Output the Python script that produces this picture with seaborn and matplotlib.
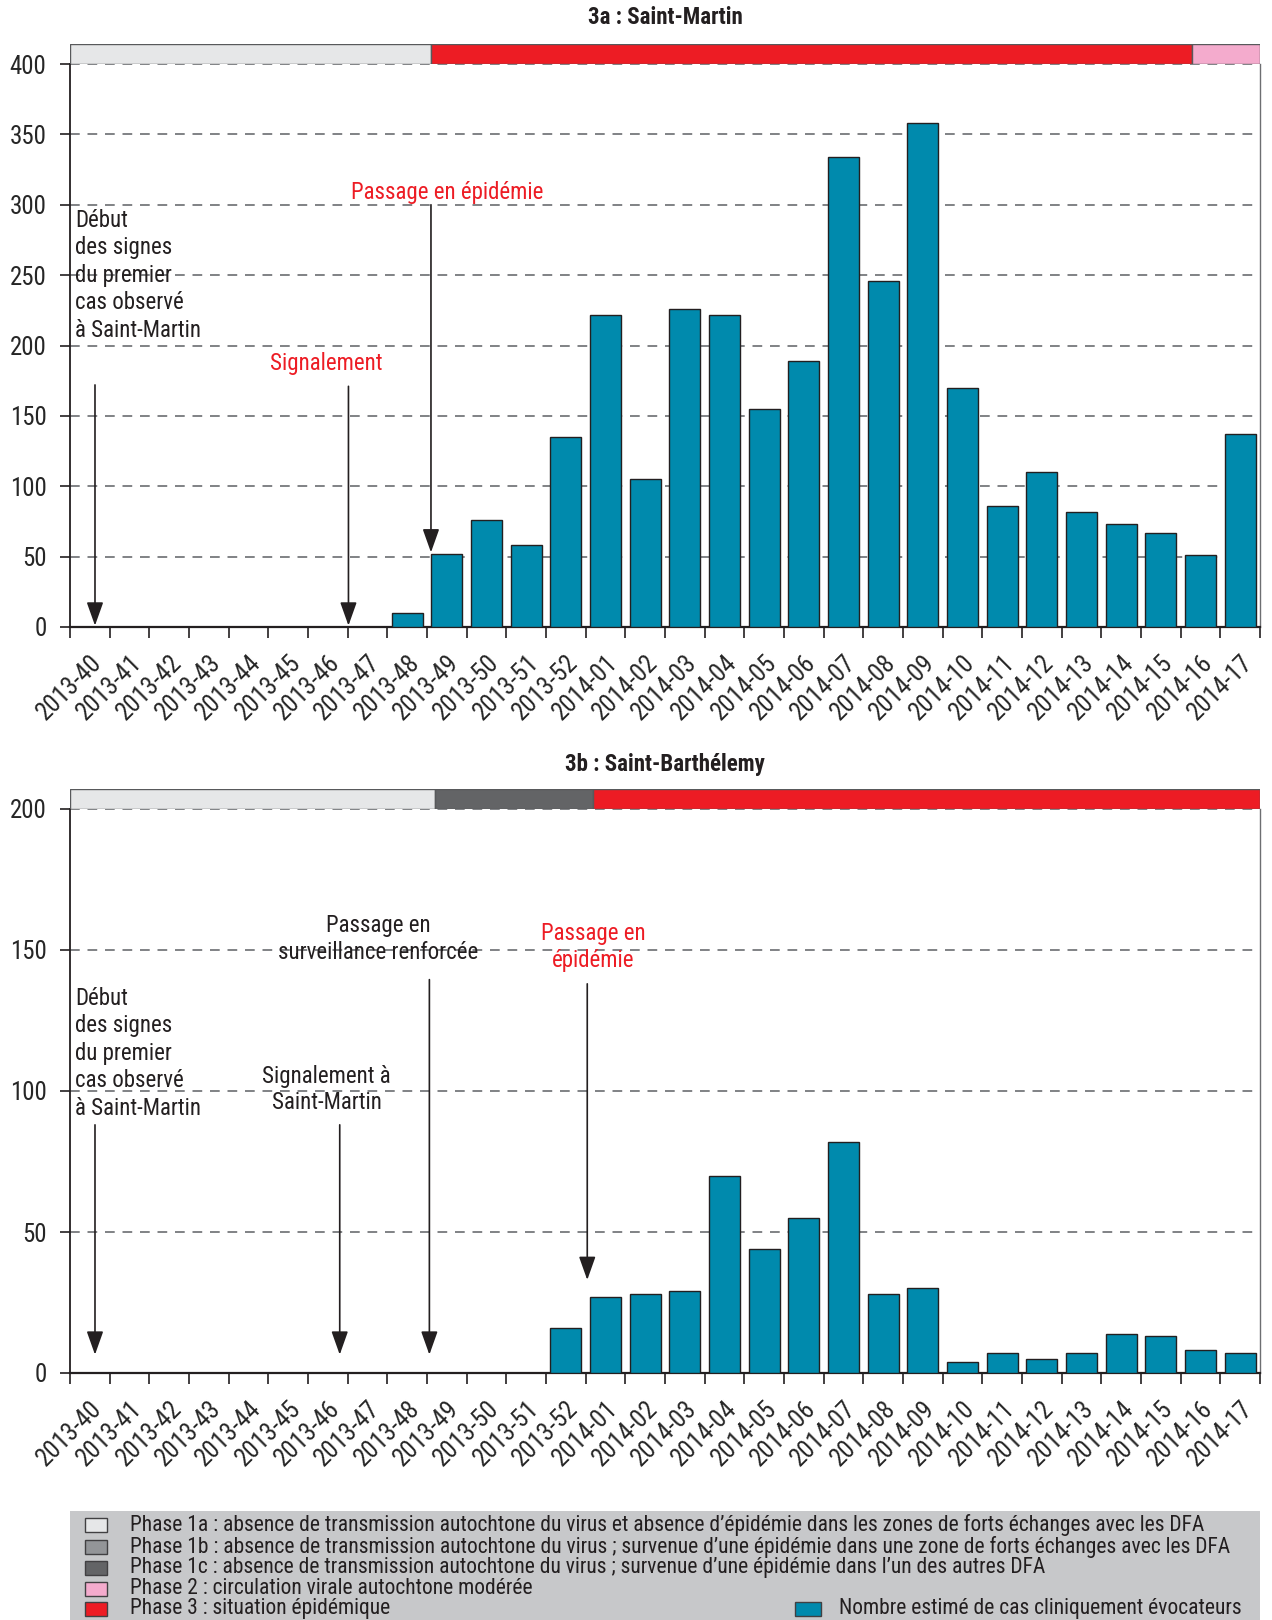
import matplotlib
matplotlib.use('Agg')
import matplotlib.pyplot as plt
from matplotlib import font_manager as fm
import seaborn as sns
import pandas as pd
from matplotlib.patches import Rectangle

# ---------------- data ----------------
weeks = ['2013-40', '2013-41', '2013-42', '2013-43', '2013-44', '2013-45', '2013-46',
         '2013-47', '2013-48', '2013-49', '2013-50', '2013-51', '2013-52',
         '2014-01', '2014-02', '2014-03', '2014-04', '2014-05', '2014-06', '2014-07',
         '2014-08', '2014-09', '2014-10', '2014-11', '2014-12', '2014-13', '2014-14',
         '2014-15', '2014-16', '2014-17']
cases_saint_martin = [0, 0, 0, 0, 0, 0, 0, 0, 10, 52, 76, 58, 135,
                      222, 105, 226, 222, 155, 189, 334, 246, 358, 170, 86, 110, 82, 73, 67, 51, 137]
cases_saint_barth = [0, 0, 0, 0, 0, 0, 0, 0, 0, 0, 0, 0, 16,
                     27, 28, 29, 70, 44, 55, 82, 28, 30, 4, 7, 5, 7, 14, 13, 8, 7]

# phase bands (in week-slot units from the left edge of the axis)
sm_phase_bounds = [0, 9.1, 28.28, 30]
sm_phase_keys = ['1a', '3', '2']
sb_phase_bounds = [0, 9.2, 13.18, 30]
sb_phase_keys = ['1a', '1c', '3']

phase_keys = ['1a', '1b', '1c', '2', '3']
phase_labels = [
    "Phase 1a : absence de transmission autochtone du virus et absence d\u2019\u00e9pid\u00e9mie dans les zones de forts \u00e9changes avec les DFA",
    "Phase 1b : absence de transmission autochtone du virus ; survenue d\u2019une \u00e9pid\u00e9mie dans une zone de forts \u00e9changes avec les DFA",
    "Phase 1c : absence de transmission autochtone du virus ; survenue d\u2019une \u00e9pid\u00e9mie dans l\u2019un des autres DFA",
    "Phase 2 : circulation virale autochtone mod\u00e9r\u00e9e",
    "Phase 3 : situation \u00e9pid\u00e9mique",
]
bar_label = "Nombre estim\u00e9 de cas cliniquement \u00e9vocateurs"

titles = ["3a : Saint-Martin", "3b : Saint-Barth\u00e9lemy"]
sm_yticks = [0, 50, 100, 150, 200, 250, 300, 350, 400]
sb_yticks = [0, 50, 100, 150, 200]

# annotations: (x index, y start, y tip)
sm_arrows = [(0.13, 172, 1), (6.52, 171, 1), (8.6, 300, 53)]
sb_arrows = [(0.13, 88, 6.5), (6.3, 88, 6.5), (8.56, 139.5, 6.5), (12.54, 138, 33)]
debut_text = "D\u00e9but\ndes signes\ndu premier\ncas observ\u00e9\n\u00e0 Saint-Martin"
sm_notes = [(5.97, 187, "Signalement", 'red'), (9.0, 309, "Passage en \u00e9pid\u00e9mie", 'red')]
sb_notes = [(7.28, 154, "Passage en\nsurveillance renforc\u00e9e", 'black'),
            (12.7, 151, "Passage en\n\u00e9pid\u00e9mie", 'red'),
            (5.97, 100.5, "Signalement \u00e0\nSaint-Martin", 'black')]

# ---------------- style ----------------
BAR = '#008AAD'
RED = '#ED1C24'
DARK = '#231F20'
phase_colors = {'1a': '#E6E7E8', '1b': '#939598', '1c': '#636466', '2': '#F4ABCD', '3': '#ED1C24'}
text_colors = {'red': RED, 'black': DARK}

sns.set_style('white')

# pick the narrowest available sans family
entries = fm.fontManager.ttflist
names = {f.name for f in entries}
stretch = 'normal'
if 'Liberation Sans Narrow' in names:
    fam = 'Liberation Sans Narrow'
elif 'Roboto Condensed' in names:
    fam = 'Roboto Condensed'
elif any(f.name == 'DejaVu Sans' and f.stretch in ('condensed', 'semi-condensed') for f in entries):
    fam = 'DejaVu Sans'
    stretch = 'condensed'
elif 'Liberation Sans' in names:
    fam = 'Liberation Sans'
else:
    fam = 'DejaVu Sans'
plt.rcParams['font.family'] = [fam, 'DejaVu Sans']
plt.rcParams['font.stretch'] = stretch
plt.rcParams['text.color'] = DARK

W, H = 1272, 1620
fig = plt.figure(figsize=(W / 100, H / 100), dpi=100)
renderer = fig.canvas.get_renderer()


def fit_size(txt, target_px, base=16, **kw):
    t = fig.text(0, 0, txt, fontsize=base, **kw)
    w = t.get_window_extent(renderer).width
    t.remove()
    return base * target_px / w


FS = min(fit_size("Passage en \u00e9pid\u00e9mie", 193), 16.5)
XFS = FS * 1.1
YFS = min(fit_size("400", 37), FS * 1.2)
LFS = min(fit_size(phase_labels[0], 1080), 15.5)
TFS = min(fit_size(titles[0], 161, fontweight='bold'), 16.5)


def fx(px):
    return px / W


def fy(py):
    return 1 - py / H


def make_panel(y_top, y_zero, y_bar_top, values, yticks, phase_bounds, pkeys,
               arrows, notes, debut_y, title, title_y):
    L, R = 70, 1260
    ax = fig.add_axes([fx(L), fy(y_zero), fx(R - L), (y_zero - y_top) / H])
    df = pd.DataFrame({'week': weeks, 'cases': values})
    sns.barplot(data=df, x='week', y='cases', color=BAR, saturation=1, width=0.78,
                edgecolor=DARK, linewidth=1.0, ax=ax, zorder=3)
    ax.set_xlim(-0.5, len(weeks) - 0.5)
    ax.set_ylim(0, yticks[-1])
    ax.set_yticks(yticks)
    ax.set_yticklabels([str(t) for t in yticks], fontsize=YFS)
    ax.set_xlabel('')
    ax.set_ylabel('')
    ax.yaxis.grid(True, linestyle=(0, (5, 4)), color='#808285', linewidth=1.4, zorder=0)
    ax.set_axisbelow(True)
    ax.tick_params(axis='y', length=7, width=1.2, color=DARK, pad=10, left=True)
    ax.set_xticks(range(len(weeks)))
    ax.set_xticklabels(weeks, rotation=45, ha='right', va='top', rotation_mode='anchor', fontsize=XFS)
    ax.tick_params(axis='x', which='major', length=0, pad=17)
    ax.set_xticks([i - 0.5 for i in range(len(weeks) + 1)], minor=True)
    ax.tick_params(axis='x', which='minor', length=8, width=1.2, color=DARK, bottom=True)
    ax.spines['top'].set_visible(False)
    ax.spines['left'].set_color(DARK)
    ax.spines['left'].set_linewidth(1.3)
    ax.spines['bottom'].set_color(DARK)
    ax.spines['bottom'].set_linewidth(1.6)
    ax.spines['right'].set_color('#6D6E71')
    ax.spines['right'].set_linewidth(1.0)

    for (xa, y0, y1) in arrows:
        ax.annotate('', xy=(xa, y1), xytext=(xa, y0),
                    arrowprops=dict(arrowstyle='-|>,head_width=0.32,head_length=0.9',
                                    color=DARK, lw=1.2, mutation_scale=16,
                                    shrinkA=0, shrinkB=0), zorder=5)
    ax.text(-0.37, debut_y, debut_text, ha='left', va='top', fontsize=FS,
            color=DARK, linespacing=1.25, zorder=6)
    for (xn, yn, txt, c) in notes:
        ax.text(xn, yn, txt, ha='center', va='center', fontsize=FS,
                color=text_colors[c], linespacing=1.2, zorder=6)

    # phase band
    pax = fig.add_axes([fx(L), fy(y_top), fx(R - L), (y_top - y_bar_top) / H])
    lefts = [b - 0.5 for b in phase_bounds[:-1]]
    widths = [phase_bounds[i + 1] - phase_bounds[i] for i in range(len(pkeys))]
    pax.barh([0] * len(pkeys), widths, left=lefts, height=1.0,
             color=[phase_colors[k] for k in pkeys], edgecolor='#58595B', linewidth=1.0)
    pax.set_xlim(-0.5, len(weeks) - 0.5)
    pax.set_ylim(-0.5, 0.5)
    pax.axis('off')

    fig.text(fx(665), fy(title_y), title, ha='center', va='center',
             fontsize=TFS, fontweight='bold', color=DARK)
    return ax


make_panel(64, 627, 44, cases_saint_martin, sm_yticks, sm_phase_bounds, sm_phase_keys,
           sm_arrows, sm_notes, 297, titles[0], 18)
make_panel(809, 1373, 789, cases_saint_barth, sb_yticks, sb_phase_bounds, sb_phase_keys,
           sb_arrows, sb_notes, 137, titles[1], 765)

# ---------------- legend ----------------
lx0, ly0, lx1, ly1 = 70, 1511, 1260, 1620
lax = fig.add_axes([fx(lx0), fy(ly1), fx(lx1 - lx0), (ly1 - ly0) / H])
lax.set_xlim(0, lx1 - lx0)
lax.set_ylim(ly1 - ly0, 0)
lax.set_facecolor('#C7C8CA')
for s in lax.spines.values():
    s.set_visible(False)
lax.set_xticks([])
lax.set_yticks([])
row_y = [14, 35.5, 57, 78, 97.5]
for k, lab, yy in zip(phase_keys, phase_labels, row_y):
    lax.add_patch(Rectangle((15, yy - 7), 22, 14, facecolor=phase_colors[k],
                            edgecolor='#414042', linewidth=1.0))
    lax.text(60, yy, lab, ha='left', va='center', fontsize=LFS, color=DARK)
lax.add_patch(Rectangle((725, row_y[-1] - 7), 26, 14, facecolor=BAR,
                        edgecolor='#414042', linewidth=1.0))
lax.text(769, row_y[-1], bar_label, ha='left', va='center', fontsize=LFS, color=DARK)

fig.savefig('out.png', dpi=100)
